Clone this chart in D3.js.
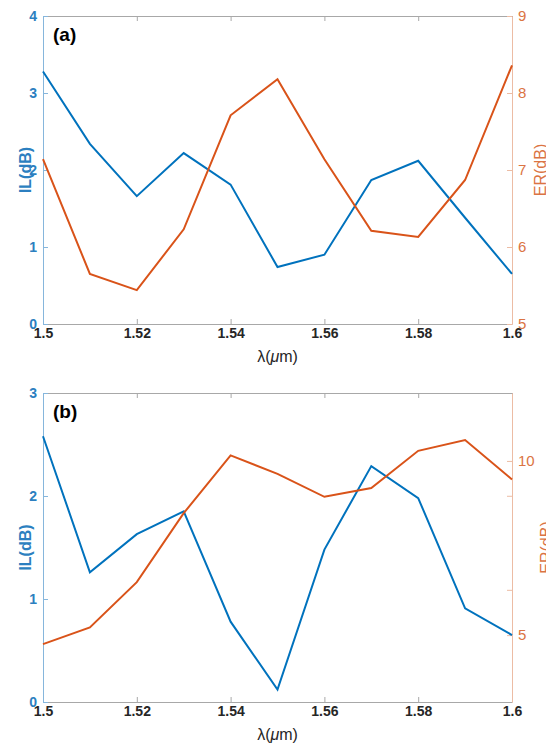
<!DOCTYPE html>
<html>
<head>
<meta charset="utf-8">
<script src="https://cdn.jsdelivr.net/npm/d3@7"></script>
<style>
  body { margin: 0; background: #fff; }
  svg { display: block; font-family: "Liberation Sans", Arial, sans-serif; }
</style>
</head>
<body>
<svg id="chart" width="546" height="747"></svg>
<script>
// wavelength samples (um)
const wavelength = [1.50, 1.51, 1.52, 1.53, 1.54, 1.55, 1.56, 1.57, 1.58, 1.59, 1.60];
const xTicks = [1.5, 1.52, 1.54, 1.56, 1.58, 1.6];

// panel (a)
const ilA = [3.28, 2.34, 1.66, 2.22, 1.81, 0.74, 0.90, 1.87, 2.12, 1.38, 0.65];
const erA = [7.14, 5.65, 5.44, 6.23, 7.71, 8.18, 7.14, 6.21, 6.13, 6.87, 8.36];
const ilTicksA = [0, 1, 2, 3, 4];
const erTicksA = [5, 6, 7, 8, 9];
const erLabelsA = ["5", "6", "7", "8", "9"];

// panel (b)
const ilB = [2.58, 1.26, 1.63, 1.85, 0.78, 0.12, 1.48, 2.29, 1.98, 0.91, 0.65];
const erB = [4.74, 5.22, 6.52, 8.50, 10.16, 9.63, 8.97, 9.22, 10.29, 10.60, 9.47];
const ilTicksB = [0, 1, 2, 3];
const erTicksB = [5, 6.3, 9, 10];
const erLabelsB = ["5", "", "", "10"];

const blue = "#0072BD", orange = "#D95319";
const svg = d3.select("#chart");

function panel(o) {
  const left = 43, right = 512;
  const g = svg.append("g");

  const x = d3.scaleLinear().domain([1.5, 1.6]).range([left, right]);
  const yL = d3.scaleLinear().domain(o.ilDomain).range([o.bottom, o.top]);
  const yR = d3.scaleLinear().domain(o.erDomain).range([o.bottom, o.top]);

  // top border with ticks
  g.append("g")
    .attr("transform", `translate(0,${o.top})`)
    .call(d3.axisTop(x).tickValues(xTicks).tickSize(-5).tickSizeOuter(0).tickFormat(""))
    .call(a => a.selectAll("path,line").attr("stroke", "#a8a8a8"));

  // bottom axis
  g.append("g")
    .attr("transform", `translate(0,${o.bottom})`)
    .call(d3.axisBottom(x).tickValues(xTicks).tickSize(-5).tickSizeOuter(0).tickPadding(4)
      .tickFormat(d3.format("")))
    .call(a => a.selectAll("path,line").attr("stroke", "#a8a8a8"))
    .call(a => a.selectAll("text").attr("fill", "#262626").attr("font-size", 14)
      .attr("font-weight", "bold").attr("font-family", null));

  // left axis
  g.append("g")
    .attr("transform", `translate(${left},0)`)
    .call(d3.axisLeft(yL).tickValues(o.ilTicks).tickSize(-5).tickSizeOuter(0).tickPadding(6)
      .tickFormat(d3.format("d")))
    .call(a => a.selectAll("path,line").attr("stroke", "#86b6dc"))
    .call(a => a.selectAll("text").attr("fill", "#2c7fc0").attr("font-size", 14)
      .attr("font-weight", "bold").attr("font-family", null));

  // right axis
  g.append("g")
    .attr("transform", `translate(${right},0)`)
    .call(d3.axisRight(yR).tickValues(o.erTicks).tickSize(-5).tickSizeOuter(0).tickPadding(6)
      .tickFormat((d, i) => o.erLabels[i]))
    .call(a => a.selectAll("path,line").attr("stroke", "#ecbca4"))
    .call(a => a.selectAll("text").attr("fill", "#db7443").attr("font-size", 15)
      .attr("font-family", null));

  const line = y => d3.line().x((d, i) => x(wavelength[i])).y(d => y(d));

  g.append("path").datum(o.il)
    .attr("fill", "none").attr("stroke", blue).attr("stroke-width", 2)
    .attr("d", line(yL));
  g.append("path").datum(o.er)
    .attr("fill", "none").attr("stroke", orange).attr("stroke-width", 2)
    .attr("d", line(yR));

  const mid = (o.top + o.bottom) / 2;

  g.append("text")
    .attr("transform", `translate(31,${mid}) rotate(-90)`)
    .attr("text-anchor", "middle").attr("font-size", 16).attr("font-weight", "bold")
    .attr("fill", "#2c7fc0").text("IL(dB)");

  g.append("text")
    .attr("transform", `translate(${o.erLabelX},${mid}) rotate(-90)`)
    .attr("text-anchor", "middle").attr("font-size", 16)
    .attr("fill", "#db7443").text("ER(dB)");

  const xl = g.append("text")
    .attr("x", (left + right) / 2).attr("y", o.bottom + 38)
    .attr("text-anchor", "middle").attr("font-size", 16).attr("fill", "#262626");
  xl.append("tspan").text("λ(");
  xl.append("tspan").attr("font-style", "italic").text("μ");
  xl.append("tspan").text("m)");

  g.append("text")
    .attr("x", 53).attr("y", o.top + 25)
    .attr("font-size", 19).attr("font-weight", "bold").attr("fill", "#000")
    .text(o.tag);
}

panel({
  top: 16, bottom: 324, tag: "(a)",
  ilDomain: [0, 4], erDomain: [5, 9],
  ilTicks: ilTicksA, erTicks: erTicksA, erLabels: erLabelsA,
  il: ilA, er: erA, erLabelX: 546
});

panel({
  top: 393, bottom: 702, tag: "(b)",
  ilDomain: [0, 3], erDomain: [3.08, 11.95],
  ilTicks: ilTicksB, erTicks: erTicksB, erLabels: erLabelsB,
  il: ilB, er: erB, erLabelX: 552
});
</script>
</body>
</html>
